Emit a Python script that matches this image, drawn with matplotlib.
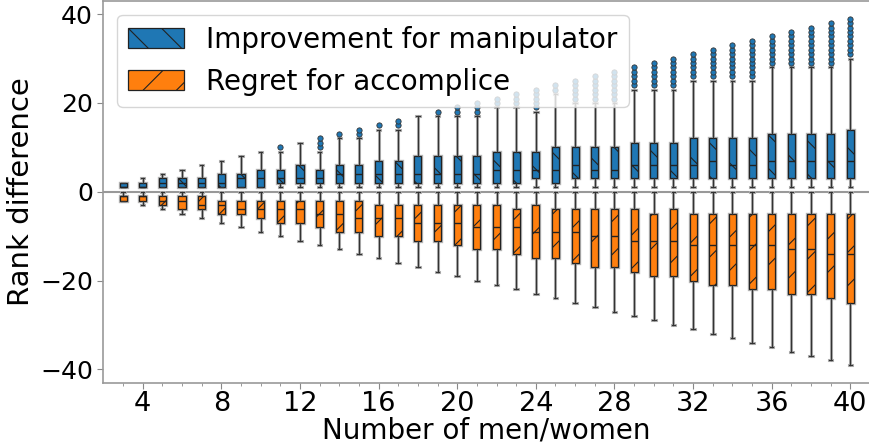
import numpy as np
import matplotlib
matplotlib.use('Agg')
import matplotlib.pyplot as plt
from matplotlib.patches import Patch

# number of men/women
sizes = list(range(3, 41))

# improvement for manipulator (blue, positive)
imp_lo = [1] * 38
imp_q1 = [1, 1, 1, 1, 1, 1, 1, 1, 2, 2, 2, 2, 2, 2, 2, 2, 2, 2, 2, 2, 2, 3, 2, 3, 3, 3,
          3, 3, 3, 3, 3, 3, 3, 3, 3, 3, 3, 3]
imp_med = [1, 1, 2, 2, 2, 2, 3, 3, 3, 3, 3, 4, 4, 4, 4, 4, 4, 4, 4, 5, 5, 5, 5, 6, 5, 5,
           6, 6, 6, 6, 7, 6, 6, 7, 7, 7, 7, 7]
imp_q3 = [2, 2, 3, 3, 3, 4, 4, 5, 5, 6, 5, 6, 6, 7, 7, 8, 8, 8, 8, 9, 9, 9, 10, 10, 10, 10,
          11, 11, 11, 12, 12, 12, 12, 13, 13, 13, 13, 14]
imp_hi = [2, 3, 4, 5, 6, 7, 8, 9, 9, 11, 9, 12, 12, 14, 14, 17, 17, 17, 17, 19, 19, 18, 22,
          20, 20, 20, 23, 23, 23, 25, 25, 25, 25, 28, 28, 28, 28, 30]
imp_fliers = [[], [], [], [], [], [], [], [], [10], [], [10, 11, 12], [13], [13, 14], [15],
              [15, 16], [], [18], [18, 19], [18, 19, 20], [20, 21], [20, 21, 22],
              [19, 20, 21, 22, 23], [23, 24], [21, 22, 23, 24, 25],
              [21, 22, 23, 24, 25, 26], [21, 22, 23, 24, 25, 26, 27],
              [24, 25, 26, 27, 28], [24, 25, 26, 27, 28, 29], [24, 25, 26, 27, 28, 29, 30],
              [26, 27, 28, 29, 30, 31], [26, 27, 28, 29, 30, 31, 32],
              [26, 27, 28, 29, 30, 31, 32, 33], [26, 27, 28, 29, 30, 31, 32, 33, 34],
              [29, 30, 31, 32, 33, 34, 35], [29, 30, 31, 32, 33, 34, 35, 36],
              [29, 30, 31, 32, 33, 34, 35, 36, 37], [29, 30, 31, 32, 33, 34, 35, 36, 37, 38],
              [31, 32, 33, 34, 35, 36, 37, 38, 39]]

# regret for accomplice (orange, negative)
reg_hi = [0] * 38
reg_q3 = [-1, -1, -1, -1, -1, -2, -2, -2, -2, -2, -2, -2, -2, -3, -3, -3, -3, -3, -3, -3,
          -4, -3, -4, -4, -4, -4, -4, -5, -4, -5, -5, -5, -5, -5, -5, -5, -5, -5]
reg_med = [-1, -1, -2, -2, -3, -3, -4, -4, -4, -4, -5, -5, -6, -6, -6, -7, -7, -7, -8, -8,
           -8, -9, -9, -9, -10, -10, -11, -11, -11, -12, -12, -12, -12, -12, -13, -13, -14, -14]
reg_q1 = [-2, -2, -3, -4, -4, -5, -5, -6, -7, -7, -8, -9, -9, -10, -10, -11, -11, -12, -13,
          -13, -14, -15, -15, -16, -17, -17, -18, -19, -19, -20, -21, -21, -22, -22, -23,
          -23, -24, -25]
reg_lo = [-2, -3, -4, -5, -6, -7, -8, -9, -10, -11, -12, -13, -14, -15, -16, -17, -18, -19,
          -20, -21, -22, -23, -24, -25, -26, -27, -28, -29, -30, -31, -32, -33, -34, -35,
          -36, -37, -38, -39]

blue = '#1f77b4'
orange = '#ff7f0e'

def make_stats(lo, q1, med, q3, hi, fl):
    return [dict(whislo=a, q1=b, med=c, q3=d, whishi=e, fliers=f)
            for a, b, c, d, e, f in zip(lo, q1, med, q3, hi, fl)]

imp_stats = make_stats(imp_lo, imp_q1, imp_med, imp_q3, imp_hi, imp_fliers)
reg_stats = make_stats(reg_lo, reg_q1, reg_med, reg_q3, reg_hi, [[] for _ in sizes])

plt.rcParams['hatch.linewidth'] = 0.8
fig = plt.figure(figsize=(8.69, 4.48), dpi=100)
ax = fig.add_axes([0.119, 0.146, 0.881, 0.852])

ax.axhline(0, color='#999999', lw=1.5, zorder=1)

for stats, col, hatch in [(imp_stats, blue, '\\'), (reg_stats, orange, '/')]:
    # grey halo underneath
    ax.bxp(stats, positions=sizes, widths=0.36, patch_artist=True, showfliers=False,
           boxprops=dict(facecolor='none', edgecolor='#b5b5b5', lw=2.4),
           whiskerprops=dict(color='#b5b5b5', lw=2.2),
           capprops=dict(color='#b5b5b5', lw=2.2),
           medianprops=dict(color='#b5b5b5', lw=2.2), manage_ticks=False, zorder=2)
    ax.bxp(stats, positions=sizes, widths=0.36, patch_artist=True, showfliers=True,
           boxprops=dict(facecolor=col, edgecolor='#222222', lw=0.9, hatch=hatch),
           whiskerprops=dict(color='#333333', lw=0.9),
           capprops=dict(color='#333333', lw=0.9),
           medianprops=dict(color='#222222', lw=1.0),
           flierprops=dict(marker='o', markerfacecolor=blue, markeredgecolor='#333333',
                           markersize=3.8, markeredgewidth=0.6),
           manage_ticks=False, zorder=3)

ax.set_xlim(2, 40.95)
ax.set_ylim(-43, 43)
ax.set_xticks([4, 8, 12, 16, 20, 24, 28, 32, 36, 40])
ax.set_xticks(range(3, 41), minor=True)
ax.set_yticks([-40, -20, 0, 20, 40])
ax.tick_params(axis='y', labelsize=18, color='#888888', length=4)
ax.tick_params(axis='x', labelsize=19.5, color='#888888', length=4, pad=2)
ax.tick_params(axis='x', which='minor', color='#888888', length=2.5)
ax.set_xlabel('Number of men/women', fontsize=20, labelpad=0)
ax.set_ylabel('Rank difference', fontsize=21, labelpad=4)
for s in ['left', 'bottom', 'top']:
    ax.spines[s].set_color('#999999')
    ax.spines[s].set_linewidth(1.2)
ax.spines['right'].set_visible(False)

handles = [Patch(facecolor=blue, edgecolor='#222222', hatch='\\', lw=0.9),
           Patch(facecolor=orange, edgecolor='#222222', hatch='/', lw=0.9)]
ax.legend(handles, ['Improvement for manipulator', 'Regret for accomplice'],
          loc='upper left', fontsize=20, handlelength=2.0, handleheight=0.7,
          framealpha=0.8)

fig.savefig('out.png', dpi=100)
